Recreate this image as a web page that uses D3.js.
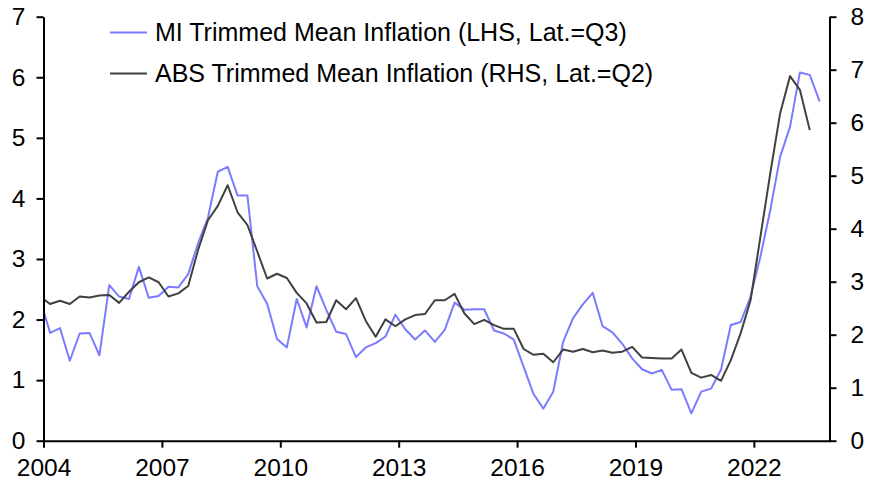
<!DOCTYPE html>
<html>
<head>
<meta charset="utf-8">
<script src="https://cdn.jsdelivr.net/npm/d3@7"></script>
<style>
  body { margin: 0; background: #fff; }
  svg { display: block; font-family: "Liberation Sans", Arial, sans-serif; }
</style>
</head>
<body>
<svg id="chart" width="875" height="484"></svg>
<script>
// Quarterly observations, first quarter = 2003 Q4 (Dec), placed at quarter-end month
const firstQuarter = { year: 2003, q: 4 };

const miValues = [
  2.33,
  1.78, 1.86, 1.32, 1.77,
  1.78, 1.41, 2.57, 2.38,
  2.34, 2.87, 2.36, 2.39,
  2.54, 2.53, 2.75, 3.26,
  3.68, 4.44, 4.52, 4.05,
  4.05, 2.55, 2.26, 1.68,
  1.54, 2.34, 1.87, 2.55,
  2.16, 1.80, 1.76, 1.38,
  1.54, 1.61, 1.72, 2.08,
  1.84, 1.67, 1.82, 1.63,
  1.83, 2.28, 2.16, 2.17,
  2.17, 1.82, 1.77, 1.67,
  1.22, 0.77, 0.53, 0.81,
  1.63, 2.02, 2.25, 2.44,
  1.89, 1.79, 1.60, 1.36,
  1.18, 1.11, 1.17, 0.84,
  0.85, 0.45, 0.81, 0.86,
  1.17, 1.91, 1.96, 2.38,
  3.04, 3.81, 4.69, 5.18,
  6.08, 6.04, 5.60
];

const absValues = [
  2.72,
  2.58, 2.64, 2.58, 2.72,
  2.70, 2.74, 2.75, 2.60,
  2.81, 2.99, 3.08, 2.99,
  2.72, 2.78, 2.92, 3.60,
  4.16, 4.43, 4.82, 4.31,
  4.07, 3.57, 3.06, 3.15,
  3.07, 2.79, 2.59, 2.23,
  2.24, 2.65, 2.48, 2.69,
  2.26, 1.96, 2.29, 2.16,
  2.29, 2.37, 2.39, 2.65,
  2.65, 2.77, 2.40, 2.20,
  2.28, 2.18, 2.11, 2.11,
  1.73, 1.62, 1.64, 1.48,
  1.72, 1.68, 1.73, 1.67,
  1.70, 1.66, 1.68, 1.77,
  1.57, 1.56, 1.55, 1.55,
  1.72, 1.28, 1.19, 1.24,
  1.13, 1.52, 2.03, 2.65,
  3.85, 5.05, 6.18, 6.88,
  6.62, 5.86
];

const xTicks = [2004, 2007, 2010, 2013, 2016, 2019, 2022];
const leftTicks = [0, 1, 2, 3, 4, 5, 6, 7];
const rightTicks = [0, 1, 2, 3, 4, 5, 6, 7, 8];
const legendLabels = [
  "MI Trimmed Mean Inflation (LHS, Lat.=Q3)",
  "ABS Trimmed Mean Inflation (RHS, Lat.=Q2)"
];

// quarter index -> decimal year at the first day of the quarter-end month
function quarterTime(i) {
  const qAbs = firstQuarter.year * 4 + (firstQuarter.q - 1) + i;
  const year = Math.floor(qAbs / 4);
  const q = qAbs % 4;
  return year + (3 * q + 2) / 12;
}

const svg = d3.select("#chart");
const margin = { left: 43.5, right: 875 - 829.5, top: 16.7, bottom: 484 - 440.7 };
const W = 875, H = 484;

const x = d3.scaleLinear().domain([2004, 2023 + 11 / 12]).range([margin.left, W - margin.right]);
const yL = d3.scaleLinear().domain([0, 7]).range([H - margin.bottom, margin.top]);
const yR = d3.scaleLinear().domain([0, 8]).range([H - margin.bottom, margin.top]);

svg.append("defs").append("clipPath").attr("id", "plotclip")
  .append("rect")
  .attr("x", margin.left).attr("y", 0)
  .attr("width", W - margin.right - margin.left).attr("height", H);

const fontSize = 24.5;
const legendFontSize = 25;

// Lines
const miLine = d3.line().x((d, i) => x(quarterTime(i))).y(d => yL(d));
const absLine = d3.line().x((d, i) => x(quarterTime(i))).y(d => yR(d));

const g = svg.append("g").attr("clip-path", "url(#plotclip)");
g.append("path").datum(miValues).attr("d", miLine)
  .attr("fill", "none").attr("stroke", "#7b7bff").attr("stroke-width", 2).attr("stroke-linejoin", "round");
g.append("path").datum(absValues).attr("d", absLine)
  .attr("fill", "none").attr("stroke", "#404040").attr("stroke-width", 2).attr("stroke-linejoin", "round");

// Axes
function styleAxis(sel) {
  sel.select(".domain").attr("stroke", "#000").attr("stroke-width", 2);
  sel.selectAll(".tick line").attr("stroke", "#000").attr("stroke-width", 2);
  sel.selectAll(".tick text").attr("fill", "#000").style("font-size", fontSize + "px")
    .style("font-family", '"Liberation Sans", Arial, sans-serif');
}

const xAxis = svg.append("g").attr("transform", `translate(0,${H - margin.bottom})`)
  .call(d3.axisBottom(x).tickValues(xTicks).tickFormat(d3.format("d")).tickSizeInner(7).tickSizeOuter(0).tickPadding(11));
styleAxis(xAxis);

const leftAxis = svg.append("g").attr("transform", `translate(${margin.left},0)`)
  .call(d3.axisLeft(yL).tickValues(leftTicks).tickFormat(d3.format("d")).tickSizeInner(7).tickSizeOuter(0).tickPadding(11));
styleAxis(leftAxis);

const rightAxis = svg.append("g").attr("transform", `translate(${W - margin.right},0)`)
  .call(d3.axisRight(yR).tickValues(rightTicks).tickFormat(d3.format("d")).tickSizeInner(7).tickSizeOuter(0).tickPadding(14));
styleAxis(rightAxis);

// Legend
const legendColors = ["#7b7bff", "#404040"];
const legend = svg.append("g");
legendLabels.forEach((lab, i) => {
  const yy = 32.5 + i * 41;
  legend.append("line").attr("x1", 110).attr("x2", 147).attr("y1", yy).attr("y2", yy)
    .attr("stroke", legendColors[i]).attr("stroke-width", 2);
  legend.append("text").attr("x", 155).attr("y", yy).attr("dy", "0.35em")
    .style("font-size", legendFontSize + "px").attr("fill", "#000").text(lab);
});
</script>
</body>
</html>
